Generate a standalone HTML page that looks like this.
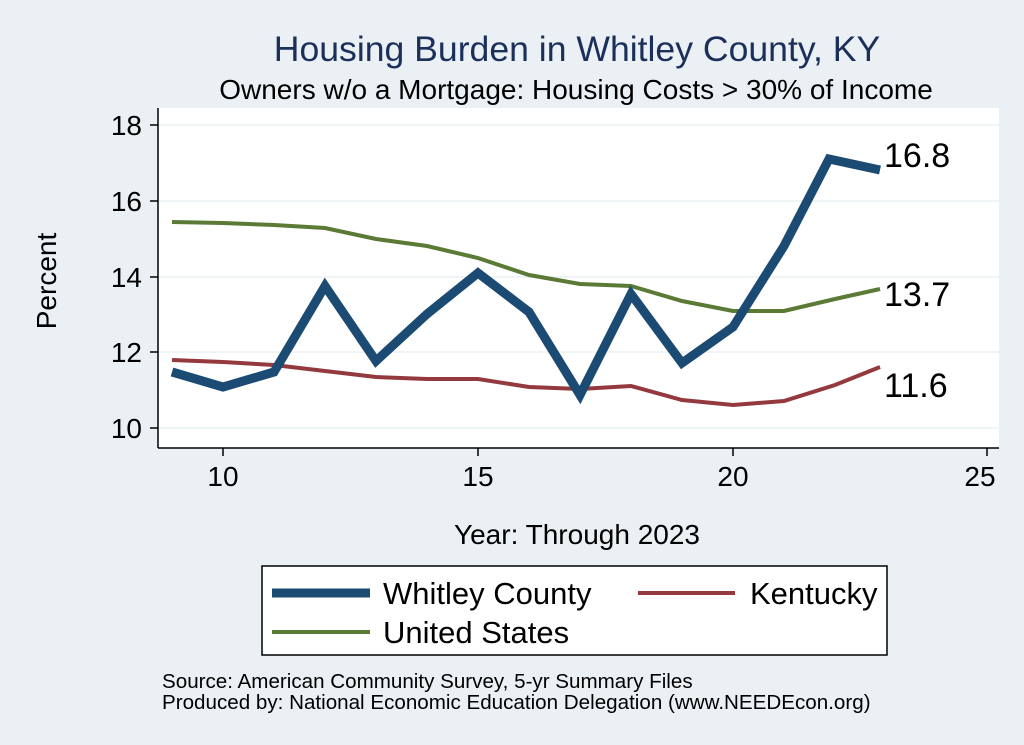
<!DOCTYPE html>
<html><head><style>
body{margin:0;background:#e9eff3;}
svg{display:block;font-family:"Liberation Sans",Arial,sans-serif;}
</style></head><body>
<svg width="1024" height="745" viewBox="0 0 1024 745" xmlns="http://www.w3.org/2000/svg">
<rect width="1024" height="745" fill="#eaf0f3"/>
<rect x="158" y="108" width="841" height="340" fill="#ffffff"/>
<text x="577" y="61" text-anchor="middle" font-size="35.6" fill="#1a2f5a">Housing Burden in Whitley County, KY</text>
<text x="576" y="99" text-anchor="middle" font-size="28" fill="#000">Owners w/o a Mortgage: Housing Costs &gt; 30% of Income</text>
<g stroke="#eaf0f3" stroke-width="1.5">
<line x1="158" y1="125" x2="999" y2="125"/><line x1="158" y1="201" x2="999" y2="201"/>
<line x1="158" y1="277" x2="999" y2="277"/><line x1="158" y1="352" x2="999" y2="352"/>
<line x1="158" y1="428" x2="999" y2="428"/>
</g>
<g stroke="#000" stroke-width="1.5">
<line x1="158" y1="108" x2="158" y2="448"/><line x1="158" y1="448" x2="999" y2="448"/>
<line x1="150" y1="125" x2="158" y2="125"/><line x1="150" y1="201" x2="158" y2="201"/>
<line x1="150" y1="277" x2="158" y2="277"/><line x1="150" y1="352" x2="158" y2="352"/>
<line x1="150" y1="428" x2="158" y2="428"/>
<line x1="223" y1="448" x2="223" y2="456"/><line x1="478" y1="448" x2="478" y2="456"/>
<line x1="733" y1="448" x2="733" y2="456"/><line x1="987" y1="448" x2="987" y2="456"/>
</g>
<g font-size="28" text-anchor="end"><text x="142" y="135">18</text><text x="142" y="211">16</text><text x="142" y="287">14</text><text x="142" y="362">12</text><text x="142" y="438">10</text></g>
<g font-size="28" text-anchor="middle"><text x="223" y="486">10</text><text x="478" y="486">15</text><text x="733" y="486">20</text><text x="980" y="486">25</text></g>
<text transform="translate(56,281) rotate(-90)" text-anchor="middle" font-size="28">Percent</text>
<text x="577" y="544" text-anchor="middle" font-size="28">Year: Through 2023</text>
<polyline fill="none" stroke="#5a7a35" stroke-width="4" points="172,222 223,223 274,225 325,228 376,239 427,246 478,258 529,275 580,284 631,286 682,301 733,311 784,311 835,299 880,289"/>
<polyline fill="none" stroke="#94393d" stroke-width="4" points="172,360 223,362 274,365 325,371 376,377 427,379 478,379 529,387 580,389 631,386 682,400 733,405 784,401 835,385 880,367"/>
<polyline fill="none" stroke="#1b4b73" stroke-width="9" stroke-linejoin="miter" points="172,372 223,387 274,372 325,286 376,361 427,314 478,273 529,312 580,395 631,294 682,363 733,327 784,246 829,159 880,170"/>
<g font-size="34"><text x="884" y="167">16.8</text><text x="884" y="306">13.7</text><text x="884" y="397">11.6</text></g>
<rect x="262" y="566" width="625" height="89" fill="#fff" stroke="#000" stroke-width="1.5"/>
<line x1="272" y1="593" x2="370" y2="593" stroke="#1b4b73" stroke-width="9"/>
<text x="383" y="604" font-size="31">Whitley County</text>
<line x1="638" y1="593" x2="735" y2="593" stroke="#94393d" stroke-width="4"/>
<text x="750" y="604" font-size="31">Kentucky</text>
<line x1="272" y1="632" x2="370" y2="632" stroke="#5a7a35" stroke-width="4"/>
<text x="383" y="643" font-size="31">United States</text>
<text x="162" y="688" font-size="20.6">Source: American Community Survey, 5-yr Summary Files</text>
<text x="162" y="709" font-size="20.6">Produced by: National Economic Education Delegation (www.NEEDEcon.org)</text>
</svg>
</body></html>
